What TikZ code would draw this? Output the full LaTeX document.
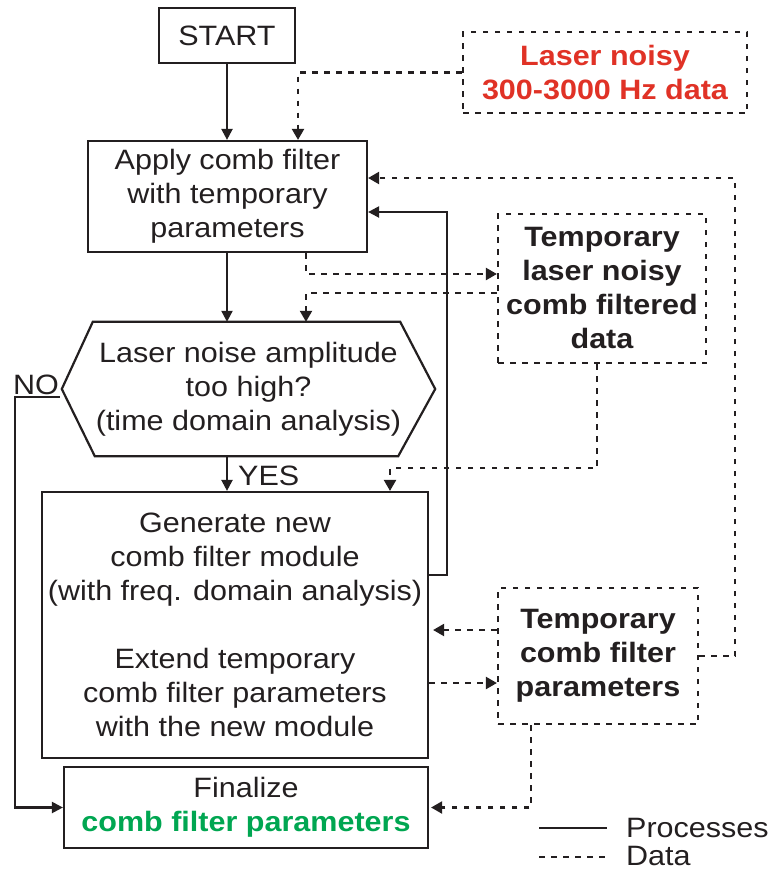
\documentclass[tikz,border=0pt]{standalone}
\usepackage{fontspec}
\setmainfont{Liberation Sans}[FakeStretch=1.09]
\usetikzlibrary{arrows.meta,calc}
\definecolor{ink}{RGB}{35,31,32}
\definecolor{laserred}{RGB}{224,50,38}
\definecolor{finalgreen}{RGB}{0,166,81}
\newcommand\dgsize{\fontsize{28}{34}\selectfont}
\tikzset{
  proc/.style={draw=ink, line width=2.2pt, -{Triangle[length=11pt,width=11pt]}},
  data/.style={draw=ink, line width=2.2pt, dash pattern=on 5.5pt off 6.5pt, -{Triangle[length=11pt,width=12pt]}},
  procbox/.style={draw=ink, line width=2.2pt, align=center, inner sep=0pt, text=ink, font=\dgsize},
  databox/.style={draw=ink, line width=2.2pt, dash pattern=on 5.5pt off 6.5pt, align=center, inner sep=0pt, text=ink, font=\dgsize\bfseries},
  lbl/.style={text=ink, inner sep=0pt, font=\dgsize},
}
\begin{document}
\begin{tikzpicture}[x=1pt,y=-1pt]
\useasboundingbox (0,0) rectangle (769,870);

% process boxes
\node[procbox, minimum width=136pt, minimum height=55pt] (start) at (227,35.5) {START};
\node[procbox, minimum width=279pt, minimum height=111pt] (apply) at (227.5,196.5) {Apply comb filter\\with temporary\\parameters};
\node[lbl, align=center, minimum width=373pt, minimum height=134pt] (hex) at (248.5,389) {Laser noise amplitude\\too high?\\(time domain analysis)};
\draw[ink, line width=2.2pt] ([xshift=31pt]hex.north west) -- ([xshift=-35pt]hex.north east) -- (hex.east)
  -- ([xshift=-37pt]hex.south east) -- ([xshift=33pt]hex.south west) -- (hex.west) -- cycle;
\node[procbox, minimum width=386pt, minimum height=266pt] (gen) at (235,625)
  {Generate new\\comb filter module\\(with freq. domain analysis)\\[34pt]Extend temporary\\comb filter parameters\\with the new module};
\node[procbox, minimum width=364pt, minimum height=81pt] (final) at (246,807.5)
  {Finalize\\\textcolor{finalgreen}{\bfseries comb filter parameters}};

% data boxes
\node[databox, text=laserred, minimum width=284pt, minimum height=81pt] (laser) at (605,72.5) {Laser noisy\\300-3000 Hz data};
\node[databox, minimum width=208pt, minimum height=149pt] (tmpdata) at (602,288.5) {Temporary\\laser noisy\\comb filtered\\data};
\node[databox, minimum width=200pt, minimum height=136pt] (params) at (598,656) {Temporary\\comb filter\\parameters};

% process flow
\draw[proc] (start.south) -- (start.south |- apply.north);
\draw[proc] (start.south |- apply.south) -- (start.south |- hex.north);
\draw[proc] (start.south |- hex.south) -- (start.south |- gen.north);
\node[lbl, anchor=base west] (yes) at (238,485) {YES};
\draw[proc] ([yshift=50pt]gen.east) -- ++(18,0) |- ([yshift=-15.5pt]apply.east);
\node[lbl, anchor=base] (no) at (36,394) {NO};
\draw[proc] ([shift={(-2pt,-8pt)}]hex.west) -- ++(-45,0) |- (final.west);

% data flow
\draw[data] (laser.west) -| ([xshift=70.5pt]apply.north);
\draw[data] ([xshift=78.5pt]apply.south) |- ([yshift=14.5pt]tmpdata.west);
\draw[data] ([yshift=-4.5pt]tmpdata.west) -| ([xshift=57.5pt]hex.north);
\draw[data] ([xshift=-5pt]tmpdata.south) -- ++(0,104) -| ([xshift=155pt]gen.north);
\draw[data] (params.east) -- ++(36,0) |- ([yshift=18.5pt]apply.east);
\draw[data, shorten >=4pt] ([yshift=26pt]params.west) -- ([yshift=26pt]params.west -| gen.east);
\draw[data] ([yshift=-58pt]gen.east) -- ([yshift=-58pt]gen.east -| params.west);
\draw[data, shorten >=2pt] ([xshift=-67pt]params.south) |- (final.east);

% legend
\coordinate (lp1) at (539,828);
\coordinate (lp2) at (607,828);
\coordinate (ld1) at (539,857);
\coordinate (ld2) at (607,857);
\draw[ink, line width=2.2pt] (lp1) -- (lp2);
\draw[ink, line width=2.2pt, dash pattern=on 5.5pt off 6.5pt] (ld1) -- (ld2);
\node[lbl, anchor=base west] (lproc) at (626,837) {Processes};
\node[lbl, anchor=base west] (ldata) at (626,865) {Data};
\end{tikzpicture}
\end{document}
